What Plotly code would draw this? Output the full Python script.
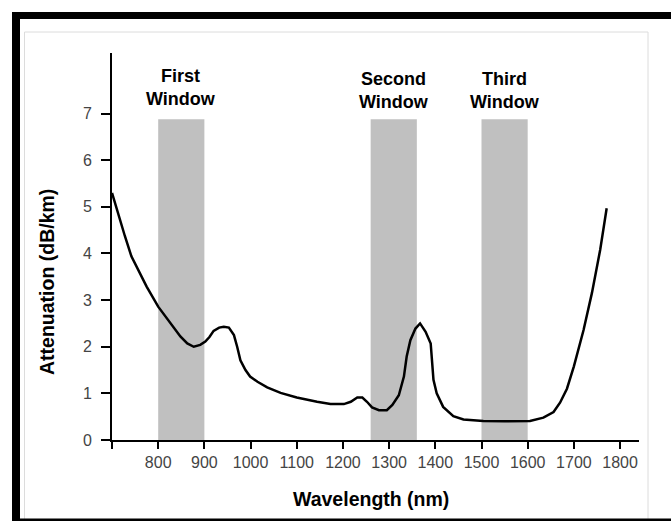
import plotly.graph_objects as go

# ---- data ----
wavelength_nm = [700, 713, 728, 742, 757, 775, 800, 826, 848, 863, 877, 891, 902, 911, 920, 932, 942,
                 953, 964, 971, 978, 989, 999, 1015, 1036, 1065, 1100, 1144, 1173, 1202, 1217, 1231,
                 1242, 1252, 1263, 1278, 1295, 1307, 1321, 1332, 1338, 1346, 1357, 1367, 1379, 1390,
                 1393, 1396, 1403, 1417, 1439, 1461, 1504, 1550, 1605, 1634, 1656, 1670, 1685, 1700,
                 1721, 1739, 1757, 1771]
attenuation_db_km = [5.30, 4.86, 4.37, 3.94, 3.65, 3.29, 2.86, 2.52, 2.22, 2.07, 2.00, 2.04, 2.11, 2.21,
                     2.34, 2.41, 2.43, 2.41, 2.25, 2.00, 1.71, 1.50, 1.36, 1.25, 1.13, 1.01, 0.91, 0.82,
                     0.77, 0.77, 0.82, 0.91, 0.91, 0.82, 0.70, 0.64, 0.64, 0.75, 0.96, 1.36, 1.79, 2.14,
                     2.39, 2.50, 2.32, 2.07, 1.72, 1.29, 1.00, 0.71, 0.51, 0.44, 0.41, 0.40, 0.41, 0.48,
                     0.60, 0.80, 1.10, 1.58, 2.36, 3.15, 4.08, 4.97]

window_labels = ["First<br>Window", "Second<br>Window", "Third<br>Window"]
window_start = [800, 1260, 1500]
window_end = [900, 1360, 1600]
window_top = 6.88

x_tick_values = [700, 800, 900, 1000, 1100, 1200, 1300, 1400, 1500, 1600, 1700, 1800]
x_tick_labels = ["", "800", "900", "1000", "1100", "1200", "1300", "1400", "1500", "1600", "1700", "1800"]
y_tick_values = [0, 1, 2, 3, 4, 5, 6, 7]
y_tick_labels = ["0", "1", "2", "3", "4", "5", "6", "7"]

# ---- layout geometry ----
W, H = 671, 521
L, R, T, B = 112, 32, 53, 81
PW, PH = W - L - R, H - T - B
X_RANGE = [700, 1841]
Y_RANGE = [0, 8.3]


def px(xp):
    return (xp - L) / PW


def py(yp):
    return (H - B - yp) / PH


FONT = "Liberation Sans, Arial, sans-serif"

fig = go.Figure()
fig.add_trace(go.Scatter(x=wavelength_nm, y=attenuation_db_km, mode="lines",
                         line=dict(color="black", width=2.5), showlegend=False,
                         hoverinfo="x+y"))

shapes = []
# windows
for s, e in zip(window_start, window_end):
    shapes.append(dict(type="rect", xref="x", yref="y", x0=s, x1=e, y0=0, y1=window_top,
                       fillcolor="#c0c0c0", line=dict(width=0), layer="below"))
# inner light frame
shapes.append(dict(type="rect", xref="paper", yref="paper", x0=px(24.5), x1=px(648),
                   y0=py(540), y1=py(32), line=dict(color="#dcdcdc", width=1),
                   fillcolor="rgba(0,0,0,0)", layer="below"))
# black outer frame pieces
shapes.append(dict(type="rect", xref="paper", yref="paper", x0=px(12), x1=px(20),
                   y0=py(519), y1=py(12), fillcolor="black", line=dict(width=0)))
shapes.append(dict(type="rect", xref="paper", yref="paper", x0=px(12), x1=px(671),
                   y0=py(19), y1=py(12), fillcolor="black", line=dict(width=0)))
shapes.append(dict(type="rect", xref="paper", yref="paper", x0=px(12), x1=px(671),
                   y0=py(521), y1=py(518.5), fillcolor="black", line=dict(width=0)))

annotations = []
label_y = [7.55, 7.49, 7.49]
for lab, s, e, ly in zip(window_labels, window_start, window_end, label_y):
    annotations.append(dict(x=(s + e) / 2, y=ly, xref="x", yref="y", text=lab, showarrow=False,
                            font=dict(family=FONT, size=18, color="black", weight="bold"),
                            xanchor="center", yanchor="middle", align="center"))
# axis titles
annotations.append(dict(x=px(371), y=py(499), xref="paper", yref="paper",
                        text="Wavelength (nm)", showarrow=False,
                        font=dict(family=FONT, size=19.5, color="black", weight="bold"),
                        xanchor="center", yanchor="middle"))
annotations.append(dict(x=px(47), y=py(282), xref="paper", yref="paper",
                        text="Attenuation (dB/km)", showarrow=False, textangle=-90,
                        font=dict(family=FONT, size=19.5, color="black", weight="bold"),
                        xanchor="center", yanchor="middle"))

fig.update_layout(
    width=W, height=H,
    margin=dict(l=L, r=R, t=T, b=B, pad=0),
    paper_bgcolor="white", plot_bgcolor="white",
    shapes=shapes, annotations=annotations,
    xaxis=dict(range=X_RANGE, showgrid=False, zeroline=False, showline=True,
               linecolor="black", linewidth=2, ticks="outside", ticklen=7, tickwidth=1.5,
               tickcolor="black", tickvals=x_tick_values, ticktext=x_tick_labels,
               tickfont=dict(family=FONT, size=16, color="#444"), fixedrange=True),
    yaxis=dict(range=Y_RANGE, showgrid=False, zeroline=False, showline=True,
               linecolor="black", linewidth=2, ticks="outside", ticklen=9, tickwidth=1.5,
               tickcolor="black", tickvals=y_tick_values, ticktext=y_tick_labels,
               tickfont=dict(family=FONT, size=16, color="#444"), ticklabelstandoff=6,
               fixedrange=True),
    xaxis2=dict(overlaying="x", matches="x", range=X_RANGE, showgrid=False, zeroline=False,
                showline=False, ticks="inside", ticklen=3, tickwidth=1.5, tickcolor="black",
                tickvals=x_tick_values, showticklabels=False),
    yaxis2=dict(overlaying="y", matches="y", range=Y_RANGE, showgrid=False, zeroline=False,
                showline=False, ticks="inside", ticklen=4, tickwidth=1.5, tickcolor="black",
                tickvals=y_tick_values, showticklabels=False),
)

fig.write_html("out.html", post_script="document.body.style.margin='0px';",
               config={"displayModeBar": False})
